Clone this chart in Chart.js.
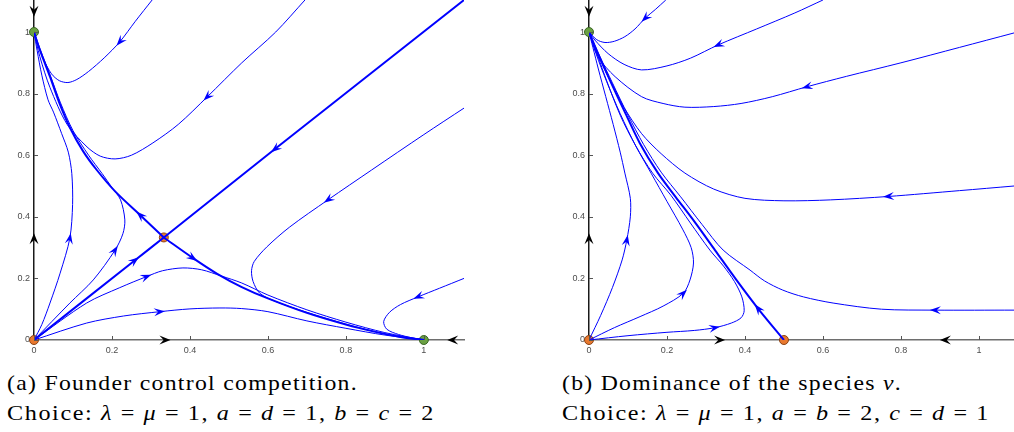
<!DOCTYPE html>
<html lang="en">
<head>
<meta charset="UTF-8">
<title>Phase portraits</title>
<script src="https://cdn.jsdelivr.net/npm/chart.js"></script>
<style>
  body { margin:0; background:#fff; width:1014px; height:432px; overflow:hidden; position:relative; }
  .panel { position:absolute; top:0; height:362px; }
  .cap {
    position:absolute; font-family:"Liberation Serif", serif;
    font-size:22px; line-height:20px; white-space:nowrap; color:#000; transform-origin:left top;
  }
</style>
</head>
<body>
<div class="panel" style="left:0;width:470px"><canvas id="chartA"></canvas></div>
<div class="panel" style="left:555px;width:459px"><canvas id="chartB"></canvas></div>

<div class="cap" data-w="351" style="left:7px;top:373px">(a) Founder control competition.</div>
<div class="cap" data-w="428" style="left:7px;top:403px">Choice: <i>λ</i> = <i>μ</i> = 1, <i>a</i> = <i>d</i> = 1, <i>b</i> = <i>c</i> = 2</div>
<div class="cap" data-w="340" style="left:562px;top:373px">(b) Dominance of the species <i>v</i>.</div>
<div class="cap" data-w="428" style="left:562px;top:403px">Choice: <i>λ</i> = <i>μ</i> = 1, <i>a</i> = <i>b</i> = 2, <i>c</i> = <i>d</i> = 1</div>

<script>
// tick values / labels (same on both panels)
const tickVals = [0, 0.2, 0.4, 0.6, 0.8, 1];
const tickLabels = ['0', '0.2', '0.4', '0.6', '0.8', '1'];

// ---- panel (a): founder control ----
// each trajectory is listed in the direction of the flow
const aTop1 = [[0.303,1.104],[0.26,1.035],[0.22,0.968],[0.18,0.916],[0.14,0.872],[0.11,0.846],[0.087,0.836],[0.065,0.842],[0.045,0.864],[0.025,0.91],[0.01,0.96],[0,1]];
const aTop2 = [[0.695,1.104],[0.62,1.0],[0.533,0.90],[0.444,0.789],[0.37,0.70],[0.305,0.64],[0.25,0.60],[0.208,0.588],[0.17,0.597],[0.136,0.627],[0.085,0.70],[0.041,0.82],[0.015,0.92],[0,1]];
const aDiagHigh = [[1.103,1.104],[0.618,0.62],[0.333,0.333]];
const aDiagLow = [[0,0],[0.259,0.259],[0.333,0.333]];
const aSepUp = [[0.333,0.333],[0.272,0.406],[0.21,0.48],[0.161,0.552],[0.125,0.615],[0.092,0.69],[0.065,0.77],[0.041,0.855],[0.02,0.925],[0.01,0.96],[0,1]];
const aSepDown = [[0.333,0.333],[0.408,0.266],[0.47,0.215],[0.533,0.172],[0.60,0.135],[0.70,0.088],[0.80,0.05],[0.87,0.028],[0.94,0.01],[1,0]];
const aRight1 = [[1.103,0.753],[1.0,0.667],[0.866,0.552],[0.754,0.455],[0.656,0.367],[0.597,0.302],[0.565,0.255],[0.558,0.225],[0.562,0.19],[0.579,0.152],[0.62,0.125],[0.70,0.09],[0.80,0.052],[0.90,0.02],[1,0]];
const aRight2 = [[1.103,0.20],[1.04,0.168],[0.985,0.14],[0.94,0.115],[0.912,0.09],[0.897,0.06],[0.905,0.035],[0.935,0.018],[0.97,0.007],[1,0]];
const aOrig1 = [[0,0],[0.02,0.05],[0.041,0.12],[0.067,0.217],[0.092,0.331],[0.099,0.44],[0.097,0.54],[0.088,0.61],[0.071,0.67],[0.05,0.74],[0.036,0.78],[0.02,0.86],[0.008,0.94],[0,1]];
const aOrig2 = [[0,0],[0.092,0.12],[0.152,0.195],[0.208,0.292],[0.228,0.345],[0.233,0.39],[0.222,0.455],[0.2,0.495],[0.175,0.54],[0.14,0.60],[0.1,0.68],[0.068,0.77],[0.043,0.855],[0.02,0.93],[0,1]];
const aOrig3 = [[0,0],[0.135,0.12],[0.22,0.17],[0.289,0.206],[0.33,0.225],[0.382,0.234],[0.43,0.228],[0.48,0.208],[0.533,0.185],[0.60,0.146],[0.70,0.098],[0.80,0.058],[0.90,0.024],[1,0]];
const aOrig4 = [[0,0],[0.135,0.055],[0.23,0.078],[0.323,0.092],[0.40,0.101],[0.477,0.104],[0.533,0.102],[0.60,0.092],[0.70,0.062],[0.80,0.038],[0.90,0.016],[1,0]];
const aUnstable = [[0,0],[0.333,0.333]];
const aStable = [[0,1],[1,0]];
const aAxisArrowX = [0, 0, 0.35, 1.06];
const aAxisArrowY = [1.05, 0.347, 0, 0];
const aAxisArrowDir = ['down', 'up', 'right', 'left'];

// ---- panel (b): dominance of v ----
const bTop1 = [[0.197,1.104],[0.17,1.073],[0.144,1.045],[0.118,1.01],[0.092,0.985],[0.065,0.97],[0.041,0.966],[0.02,0.975],[0,1]];
const bTop2 = [[0.60,1.104],[0.528,1.062],[0.43,1.01],[0.331,0.958],[0.26,0.915],[0.20,0.89],[0.135,0.877],[0.09,0.895],[0.049,0.93],[0.015,0.974],[0,1]];
const bTop3 = [[1.09,0.997],[0.95,0.95],[0.80,0.9],[0.66,0.856],[0.558,0.822],[0.47,0.79],[0.39,0.768],[0.32,0.758],[0.246,0.756],[0.19,0.768],[0.135,0.79],[0.067,0.855],[0.023,0.92],[0,1]];
const bMid = [[1.09,0.50],[0.95,0.485],[0.767,0.466],[0.62,0.455],[0.50,0.452],[0.40,0.46],[0.32,0.49],[0.246,0.542],[0.185,0.605],[0.135,0.67],[0.09,0.755],[0.049,0.855],[0.02,0.935],[0,1]];
const bLow = [[1.09,0.097],[0.887,0.097],[0.75,0.10],[0.626,0.12],[0.55,0.14],[0.497,0.162],[0.45,0.192],[0.413,0.227],[0.344,0.292],[0.29,0.375],[0.235,0.465],[0.185,0.545],[0.14,0.635],[0.1,0.73],[0.06,0.835],[0.028,0.92],[0,1]];
const bSep = [[0.5,0],[0.433,0.103],[0.378,0.195],[0.323,0.292],[0.27,0.385],[0.222,0.465],[0.177,0.542],[0.13,0.64],[0.092,0.74],[0.055,0.84],[0.025,0.925],[0,1]];
const bOrig1 = [[0,0],[0.1,0.014],[0.2,0.025],[0.27,0.031],[0.323,0.04],[0.365,0.055],[0.39,0.072],[0.398,0.095],[0.392,0.14],[0.373,0.19],[0.345,0.24],[0.31,0.292],[0.26,0.38],[0.21,0.47],[0.163,0.542],[0.12,0.63],[0.08,0.73],[0.04,0.86],[0.015,0.95],[0,1]];
const bOrig2 = [[0,0],[0.065,0.04],[0.131,0.076],[0.19,0.11],[0.242,0.152],[0.259,0.195],[0.268,0.25],[0.262,0.30],[0.24,0.36],[0.2,0.45],[0.16,0.54],[0.12,0.63],[0.08,0.735],[0.045,0.84],[0.018,0.93],[0,1]];
const bOrig3 = [[0,0],[0.03,0.08],[0.06,0.17],[0.085,0.26],[0.097,0.325],[0.106,0.40],[0.106,0.46],[0.092,0.542],[0.08,0.61],[0.062,0.70],[0.043,0.79],[0.024,0.88],[0.01,0.95],[0,1]];
const bUnstable = [[0,0],[0.5,0]];
const bStable = [[0,1]];
const bAxisArrowX = [0, 0, 0.349, 0.90];
const bAxisArrowY = [1.05, 0.347, 0, 0];
const bAxisArrowDir = ['down', 'up', 'right', 'left'];

const BLUE = '#0000ff';

function traj(points, thick, arrowAt) {
  return {
    data: points.map(p => ({x: p[0], y: p[1]})),
    showLine: true,
    borderColor: BLUE,
    borderWidth: thick ? 2 : 1,
    pointRadius: 0,
    tension: 0.3,
    arrowAt: arrowAt
  };
}
function equil(points, fill, edge) {
  return {
    data: points.map(p => ({x: p[0], y: p[1]})),
    pointRadius: 4.5,
    pointBackgroundColor: fill,
    pointBorderColor: edge,
    pointBorderWidth: 1,
    clip: false
  };
}

function chevron(ctx, x, y, ang, len, wid, color) {
  ctx.save();
  ctx.translate(x, y);
  ctx.rotate(ang);
  ctx.beginPath();
  ctx.moveTo(0, 0);
  ctx.lineTo(-len, wid / 2);
  ctx.lineTo(-len * 0.62, 0);
  ctx.lineTo(-len, -wid / 2);
  ctx.closePath();
  ctx.fillStyle = color;
  ctx.fill();
  ctx.restore();
}

// blue arrowheads on trajectories, pointing along the flow
const flowArrows = {
  id: 'flowArrows',
  afterDatasetsDraw(chart) {
    const {ctx, scales: {x, y}} = chart;
    chart.data.datasets.forEach(ds => {
      if (ds.arrowAt == null) return;
      const d = ds.data, i = ds.arrowAt;
      const p0 = d[Math.max(i - 1, 0)], p1 = d[Math.min(i + 1, d.length - 1)];
      const ang = Math.atan2(y.getPixelForValue(p1.y) - y.getPixelForValue(p0.y),
                             x.getPixelForValue(p1.x) - x.getPixelForValue(p0.x));
      const px = x.getPixelForValue(d[i].x) + Math.cos(ang) * 5;
      const py = y.getPixelForValue(d[i].y) + Math.sin(ang) * 5;
      chevron(ctx, px, py, ang, 11, 8, BLUE);
    });
  }
};

// inward tick marks + black arrows on the invariant axes
const axisDecor = {
  id: 'axisDecor',
  afterDraw(chart, args, opts) {
    const {ctx, chartArea: a, scales: {x, y}} = chart;
    ctx.save();
    ctx.strokeStyle = '#555';
    ctx.lineWidth = 1;
    ctx.beginPath();
    x.ticks.forEach(t => {
      const px = Math.round(x.getPixelForValue(t.value)) + 0.5;
      ctx.moveTo(px, a.bottom); ctx.lineTo(px, a.bottom - 4);
    });
    y.ticks.forEach(t => {
      const py = Math.round(y.getPixelForValue(t.value)) + 0.5;
      ctx.moveTo(a.left, py); ctx.lineTo(a.left + 4, py);
    });
    ctx.stroke();
    ctx.restore();
    const angles = {right: 0, down: Math.PI / 2, left: Math.PI, up: -Math.PI / 2};
    opts.x.forEach((vx, k) => {
      chevron(ctx, x.getPixelForValue(vx), y.getPixelForValue(opts.y[k]), angles[opts.dir[k]], 11, 9, '#000');
    });
  }
};

function makeChart(id, datasets, xMax, padRight, arrows) {
  new Chart(document.getElementById(id), {
    type: 'scatter',
    data: {datasets},
    options: {
      responsive: true,
      maintainAspectRatio: false,
      animation: false,
      layout: {autoPadding: false, padding: {left: 0, top: 0, right: padRight, bottom: 0}},
      plugins: {legend: {display: false}, tooltip: {enabled: false}, axisDecor: arrows},
      scales: {
        x: {
          type: 'linear', min: 0, max: xMax,
          grid: {display: false, drawTicks: false},
          border: {display: true, color: '#6e6e6e', width: 1.5},
          ticks: {padding: 5, color: '#4d4d4d', font: {family: 'Liberation Sans', size: 9}, callback: (v, i) => tickLabels[i]},
          afterBuildTicks: s => { s.ticks = tickVals.map(v => ({value: v})); },
          afterFit: s => { s.height = 22; s.paddingLeft = 0; s.paddingRight = 0; }
        },
        y: {
          type: 'linear', min: 0, max: 1.104,
          grid: {display: false, drawTicks: false},
          border: {display: true, color: '#1a1a1a', width: 1.5},
          ticks: {padding: 4, color: '#4d4d4d', font: {family: 'Liberation Sans', size: 9}, callback: (v, i) => tickLabels[i]},
          afterBuildTicks: s => { s.ticks = tickVals.map(v => ({value: v})); },
          afterFit: s => { s.width = 34; s.paddingTop = 0; s.paddingBottom = 0; }
        }
      }
    },
    plugins: [flowArrows, axisDecor]
  });
}

makeChart('chartA', [
  traj(aTop1, false, 2),
  traj(aTop2, false, 3),
  traj(aRight1, false, 3),
  traj(aRight2, false, 2),
  traj(aOrig1, false, 4),
  traj(aOrig2, false, 3),
  traj(aOrig3, false, 3),
  traj(aOrig4, false, 3),
  traj(aDiagHigh, true, 1),
  traj(aDiagLow, true, 1),
  traj(aSepUp, true, 1),
  traj(aSepDown, true, 1),
  equil(aUnstable, '#e8782e', '#8a4315'),
  equil(aStable, '#6aa043', '#3b6624')
], 1.103, 6, {x: aAxisArrowX, y: aAxisArrowY, dir: aAxisArrowDir});

makeChart('chartB', [
  traj(bTop1, false, 2),
  traj(bTop2, false, 3),
  traj(bTop3, false, 4),
  traj(bMid, false, 2),
  traj(bLow, false, 1),
  traj(bOrig1, false, 4),
  traj(bOrig2, false, 4),
  traj(bOrig3, false, 4),
  traj(bSep, true, 1),
  equil(bUnstable, '#e8782e', '#8a4315'),
  equil(bStable, '#6aa043', '#3b6624')
], 1.09, 0, {x: bAxisArrowX, y: bAxisArrowY, dir: bAxisArrowDir});

// widen captions to the LaTeX originals: mostly letter spacing, a touch of stretch
document.querySelectorAll('.cap').forEach(el => {
  const target = +el.dataset.w;
  const n = el.textContent.length;
  const w0 = el.getBoundingClientRect().width;
  el.style.letterSpacing = ((target - w0) * 0.6 / n).toFixed(2) + 'px';
  const w1 = el.getBoundingClientRect().width;
  el.style.transform = 'scaleX(' + (target / w1).toFixed(3) + ')';
});
</script>
</body>
</html>
